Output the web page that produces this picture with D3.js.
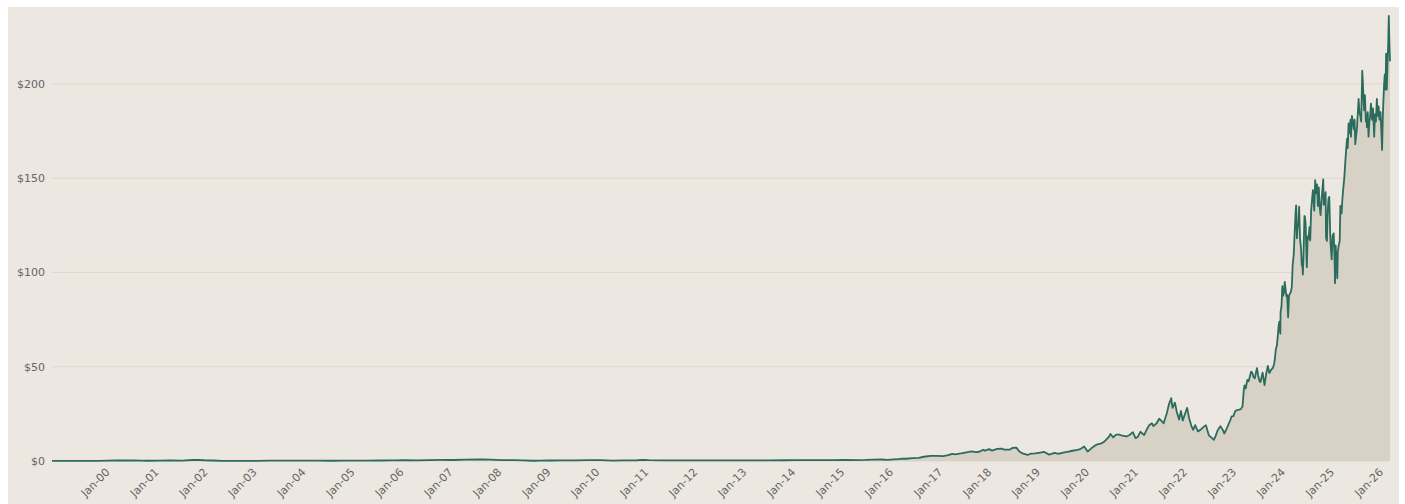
<!DOCTYPE html>
<html>
<head>
<meta charset="utf-8">
<script src="https://cdn.jsdelivr.net/npm/d3@7"></script>
<style>
  body { margin: 0; background: #ffffff; }
  #chart { position: absolute; left: 8px; top: 7px; }
  #chart text { font-family: "DejaVu Sans", sans-serif; }
</style>
</head>
<body>
<svg id="chart"></svg>
<script>
// Daily-close history, split adjusted (date, close in USD)
const closes = [
  ["1999-01-22", 0.041], ["1999-04-01", 0.036], ["1999-07-01", 0.045], ["1999-10-01", 0.07],
  ["2000-01-03", 0.09], ["2000-03-10", 0.22], ["2000-06-01", 0.27], ["2000-09-15", 0.34], ["2000-11-20", 0.16],
  ["2001-01-02", 0.13], ["2001-04-02", 0.23], ["2001-06-15", 0.32], ["2001-09-21", 0.21], ["2001-12-03", 0.52],
  ["2002-01-14", 0.58], ["2002-03-01", 0.40], ["2002-05-01", 0.27], ["2002-07-15", 0.10], ["2002-10-08", 0.06],
  ["2003-01-02", 0.10], ["2003-04-01", 0.11], ["2003-07-01", 0.20], ["2003-10-01", 0.15],
  ["2004-01-02", 0.19], ["2004-04-01", 0.20], ["2004-07-01", 0.15], ["2004-10-01", 0.12],
  ["2005-01-03", 0.18], ["2005-04-01", 0.19], ["2005-07-01", 0.21], ["2005-10-03", 0.26],
  ["2006-01-03", 0.28], ["2006-04-03", 0.43], ["2006-07-03", 0.32], ["2006-10-02", 0.47],
  ["2007-01-02", 0.55], ["2007-04-02", 0.53], ["2007-07-02", 0.71], ["2007-10-31", 0.90],
  ["2008-01-02", 0.78], ["2008-04-01", 0.50], ["2008-07-01", 0.47], ["2008-09-01", 0.30], ["2008-11-20", 0.14],
  ["2009-01-02", 0.20], ["2009-04-01", 0.26], ["2009-07-01", 0.30], ["2009-10-01", 0.36],
  ["2010-01-04", 0.43], ["2010-04-05", 0.44], ["2010-07-01", 0.25], ["2010-10-01", 0.29],
  ["2011-01-03", 0.40], ["2011-02-15", 0.60], ["2011-04-01", 0.45], ["2011-07-01", 0.38], ["2011-10-03", 0.33],
  ["2012-01-03", 0.36], ["2012-04-02", 0.38], ["2012-07-02", 0.30], ["2012-10-01", 0.32],
  ["2013-01-02", 0.31], ["2013-04-01", 0.32], ["2013-07-01", 0.35], ["2013-10-01", 0.38],
  ["2014-01-02", 0.40], ["2014-04-01", 0.45], ["2014-07-01", 0.47], ["2014-10-01", 0.45],
  ["2015-01-02", 0.50], ["2015-04-01", 0.53], ["2015-07-01", 0.50], ["2015-09-01", 0.55], ["2015-11-02", 0.75],
  ["2016-01-04", 0.80], ["2016-02-11", 0.65], ["2016-04-01", 0.90], ["2016-05-13", 0.95], ["2016-05-20", 1.20],
  ["2016-07-01", 1.20], ["2016-08-15", 1.50], ["2016-10-03", 1.70], ["2016-11-11", 2.25], ["2016-12-30", 2.70],
  ["2017-02-15", 2.70], ["2017-04-03", 2.55], ["2017-05-12", 3.10], ["2017-06-09", 3.80], ["2017-07-03", 3.50],
  ["2017-08-15", 4.00], ["2017-09-15", 4.50], ["2017-11-01", 5.10], ["2017-12-01", 4.70], ["2017-12-29", 4.90],
  ["2018-01-26", 6.00], ["2018-02-08", 5.50], ["2018-03-13", 6.30], ["2018-04-02", 5.50], ["2018-05-11", 6.40],
  ["2018-06-15", 6.60], ["2018-07-02", 6.00], ["2018-08-15", 6.10], ["2018-09-04", 7.00], ["2018-10-01", 7.10],
  ["2018-10-24", 5.00], ["2018-11-16", 4.00], ["2018-12-24", 3.20],
  ["2019-01-18", 3.90], ["2019-02-20", 4.00], ["2019-03-29", 4.50], ["2019-04-25", 4.90], ["2019-06-03", 3.40],
  ["2019-07-15", 4.30], ["2019-08-09", 3.80], ["2019-09-16", 4.50], ["2019-10-25", 5.00], ["2019-11-15", 5.30],
  ["2019-12-31", 5.90],
  ["2020-01-21", 6.30], ["2020-02-19", 7.70], ["2020-03-16", 5.00], ["2020-03-20", 5.20], ["2020-04-17", 7.00],
  ["2020-05-22", 8.70], ["2020-06-26", 9.30], ["2020-07-17", 10.20], ["2020-08-21", 12.80], ["2020-09-02", 14.30],
  ["2020-09-23", 12.50], ["2020-10-14", 14.00], ["2020-11-06", 14.00], ["2020-11-30", 13.40], ["2020-12-31", 13.00],
  ["2021-01-22", 13.80], ["2021-02-16", 15.30], ["2021-03-08", 12.10], ["2021-03-26", 12.90], ["2021-04-13", 15.50],
  ["2021-05-12", 13.80], ["2021-05-28", 16.30], ["2021-06-18", 19.00], ["2021-07-08", 20.00], ["2021-07-19", 18.50],
  ["2021-08-13", 20.00], ["2021-08-31", 22.40], ["2021-09-21", 21.00], ["2021-10-04", 20.00], ["2021-10-28", 25.50],
  ["2021-11-12", 30.00], ["2021-11-29", 33.30], ["2021-12-09", 28.20], ["2021-12-27", 30.90],
  ["2022-01-10", 26.00], ["2022-01-27", 22.00], ["2022-02-10", 26.50], ["2022-02-23", 21.40], ["2022-03-28", 28.20],
  ["2022-04-11", 23.00], ["2022-04-29", 18.50], ["2022-05-12", 16.50], ["2022-05-27", 19.00], ["2022-06-16", 15.70],
  ["2022-07-05", 16.50], ["2022-07-29", 18.10], ["2022-08-15", 19.00], ["2022-09-06", 13.60], ["2022-09-30", 12.10],
  ["2022-10-13", 11.20], ["2022-10-26", 13.20], ["2022-11-11", 16.30], ["2022-12-01", 18.50], ["2022-12-21", 16.20],
  ["2022-12-30", 14.60],
  ["2023-01-13", 16.50], ["2023-01-31", 19.50], ["2023-02-15", 22.00], ["2023-02-23", 23.70], ["2023-03-08", 23.80],
  ["2023-03-22", 26.50], ["2023-04-05", 27.00], ["2023-04-20", 27.20], ["2023-05-03", 27.50], ["2023-05-15", 29.00],
  ["2023-05-25", 38.00], ["2023-05-30", 40.10], ["2023-06-08", 38.50], ["2023-06-20", 43.00], ["2023-06-30", 42.30],
  ["2023-07-18", 47.40], ["2023-07-28", 46.70], ["2023-08-04", 44.60], ["2023-08-15", 43.90], ["2023-08-24", 47.10],
  ["2023-08-31", 49.30], ["2023-09-08", 45.50], ["2023-09-20", 42.20], ["2023-09-26", 41.90], ["2023-10-12", 46.90],
  ["2023-10-26", 40.30], ["2023-11-08", 46.50], ["2023-11-20", 50.40], ["2023-12-01", 46.70], ["2023-12-14", 48.30],
  ["2023-12-29", 49.50],
  ["2024-01-08", 52.3], ["2024-01-12", 54.7], ["2024-01-19", 59.5], ["2024-01-26", 61.0], ["2024-02-02", 66.1],
  ["2024-02-09", 72.1], ["2024-02-14", 73.9], ["2024-02-21", 67.5], ["2024-02-23", 78.9], ["2024-03-01", 82.2],
  ["2024-03-07", 92.7], ["2024-03-08", 87.5], ["2024-03-14", 87.9], ["2024-03-19", 89.4], ["2024-03-25", 95.0],
  ["2024-04-01", 90.4], ["2024-04-08", 87.1], ["2024-04-12", 88.1], ["2024-04-19", 76.2], ["2024-04-26", 87.7],
  ["2024-05-03", 88.8], ["2024-05-10", 89.8], ["2024-05-17", 92.5], ["2024-05-23", 103.8], ["2024-05-31", 109.6],
  ["2024-06-07", 120.9], ["2024-06-14", 131.9], ["2024-06-18", 135.6], ["2024-06-24", 118.1], ["2024-06-28", 123.5],
  ["2024-07-05", 125.8], ["2024-07-10", 134.9], ["2024-07-17", 117.9], ["2024-07-25", 112.3], ["2024-07-30", 103.7],
  ["2024-08-02", 107.3], ["2024-08-07", 98.9], ["2024-08-12", 109.0], ["2024-08-19", 130.0], ["2024-08-23", 129.4],
  ["2024-08-28", 125.6], ["2024-09-03", 108.0], ["2024-09-06", 102.8], ["2024-09-12", 119.1], ["2024-09-19", 117.9],
  ["2024-09-25", 124.0], ["2024-10-01", 117.0], ["2024-10-08", 132.9], ["2024-10-14", 138.1], ["2024-10-21", 143.7],
  ["2024-10-31", 132.8], ["2024-11-07", 148.9], ["2024-11-15", 141.9], ["2024-11-21", 146.7], ["2024-11-27", 135.3],
  ["2024-12-04", 145.1], ["2024-12-10", 135.1], ["2024-12-17", 130.4], ["2024-12-26", 139.9],
  ["2025-01-06", 149.4], ["2025-01-10", 135.9], ["2025-01-15", 136.2], ["2025-01-24", 142.6], ["2025-01-27", 118.4],
  ["2025-02-03", 116.7], ["2025-02-07", 129.8], ["2025-02-14", 138.9], ["2025-02-20", 140.1], ["2025-02-27", 120.2],
  ["2025-03-03", 114.1], ["2025-03-10", 106.9], ["2025-03-17", 119.5], ["2025-03-25", 120.7], ["2025-03-31", 108.4],
  ["2025-04-04", 94.3], ["2025-04-09", 114.3], ["2025-04-16", 104.5], ["2025-04-21", 96.9], ["2025-04-25", 111.0],
  ["2025-05-02", 114.5], ["2025-05-09", 116.7], ["2025-05-14", 135.3], ["2025-05-23", 131.3], ["2025-05-28", 138.0],
  ["2025-06-05", 145.0], ["2025-06-12", 150.0], ["2025-06-19", 158.0], ["2025-06-26", 165.0], ["2025-07-03", 171.0],
  ["2025-07-08", 166.0], ["2025-07-14", 179.0], ["2025-07-21", 174.0], ["2025-07-28", 181.0], ["2025-08-01", 172.0],
  ["2025-08-08", 183.0], ["2025-08-15", 180.0], ["2025-08-22", 176.0], ["2025-08-28", 181.0], ["2025-09-02", 168.0],
  ["2025-09-09", 173.0], ["2025-09-15", 177.0], ["2025-09-22", 186.0], ["2025-09-27", 192.0], ["2025-10-03", 185.0],
  ["2025-10-10", 183.0], ["2025-10-16", 180.0], ["2025-10-24", 207.0], ["2025-10-29", 200.0], ["2025-11-03", 191.0],
  ["2025-11-07", 186.0], ["2025-11-13", 194.0], ["2025-11-20", 180.0], ["2025-11-24", 184.0], ["2025-11-28", 177.0],
  ["2025-12-04", 185.0], ["2025-12-10", 172.0], ["2025-12-16", 180.0], ["2025-12-22", 183.0], ["2025-12-28", 189.5],
  ["2026-01-05", 181.0], ["2026-01-12", 187.0], ["2026-01-21", 172.0], ["2026-01-27", 184.0], ["2026-02-03", 180.0],
  ["2026-02-10", 192.0], ["2026-02-17", 183.0], ["2026-02-23", 188.0], ["2026-03-01", 181.0], ["2026-03-09", 185.0],
  ["2026-03-15", 176.0], ["2026-03-21", 165.0], ["2026-03-27", 184.0], ["2026-04-05", 200.0], ["2026-04-10", 205.0],
  ["2026-04-16", 197.0], ["2026-04-20", 216.0], ["2026-04-25", 197.0], ["2026-05-01", 212.0], ["2026-05-06", 222.0],
  ["2026-05-10", 236.0], ["2026-05-14", 223.0], ["2026-05-19", 212.0]
];

// Axis ticks
const priceTicks = [0, 50, 100, 150, 200];
const tickYears = d3.range(2000, 2027);

const W = 1391, H = 497;
const margin = { top: 9, right: 9, bottom: 43, left: 44 };

const parse = d3.timeParse("%Y-%m-%d");
const data = closes.map(([d, v]) => ({ date: parse(d), value: v }));

const svg = d3.select("#chart").attr("width", W).attr("height", H);

svg.append("rect")
  .attr("width", W).attr("height", H)
  .attr("fill", "#ece7e0");

const x = d3.scaleTime()
  .domain(d3.extent(data, d => d.date))
  .range([margin.left, W - margin.right]);

const y = d3.scaleLinear()
  .domain([0, d3.max(data, d => d.value)])
  .range([H - margin.bottom, margin.top]);

// Horizontal gridlines
svg.append("g")
  .selectAll("line")
  .data(priceTicks)
  .join("line")
  .attr("x1", margin.left)
  .attr("x2", W - margin.right)
  .attr("y1", d => y(d))
  .attr("y2", d => y(d))
  .attr("stroke", "#dcd6ce")
  .attr("stroke-width", 1);

// Shaded area under the price line
svg.append("path")
  .datum(data)
  .attr("fill", "#d7d1c6")
  .attr("d", d3.area()
    .x(d => x(d.date))
    .y0(y(0))
    .y1(d => y(d.value)));

// Price line
svg.append("path")
  .datum(data)
  .attr("fill", "none")
  .attr("stroke", "#2b6c5d")
  .attr("stroke-width", 1.8)
  .attr("stroke-linejoin", "round")
  .attr("d", d3.line()
    .x(d => x(d.date))
    .y(d => y(d.value)));

// Y axis labels
const yAxis = svg.append("g")
  .attr("transform", `translate(${margin.left},0)`)
  .call(d3.axisLeft(y)
    .tickValues(priceTicks)
    .tickSize(0)
    .tickPadding(7)
    .tickFormat(d => "$" + d));
yAxis.select(".domain").remove();
yAxis.selectAll("text")
  .attr("fill", "#666")
  .style("font-size", "11px");

// X axis labels, rotated
const xAxis = svg.append("g")
  .attr("transform", `translate(0,${y(0)})`)
  .call(d3.axisBottom(x)
    .tickValues(tickYears.map(yr => new Date(yr, 0, 1)))
    .tickSize(0)
    .tickPadding(9)
    .tickFormat(d3.timeFormat("%b-%y")));
xAxis.select(".domain").remove();
xAxis.selectAll("text")
  .attr("fill", "#666")
  .style("font-size", "11px")
  .attr("text-anchor", "end")
  .attr("transform", "rotate(-45)");
</script>
</body>
</html>
